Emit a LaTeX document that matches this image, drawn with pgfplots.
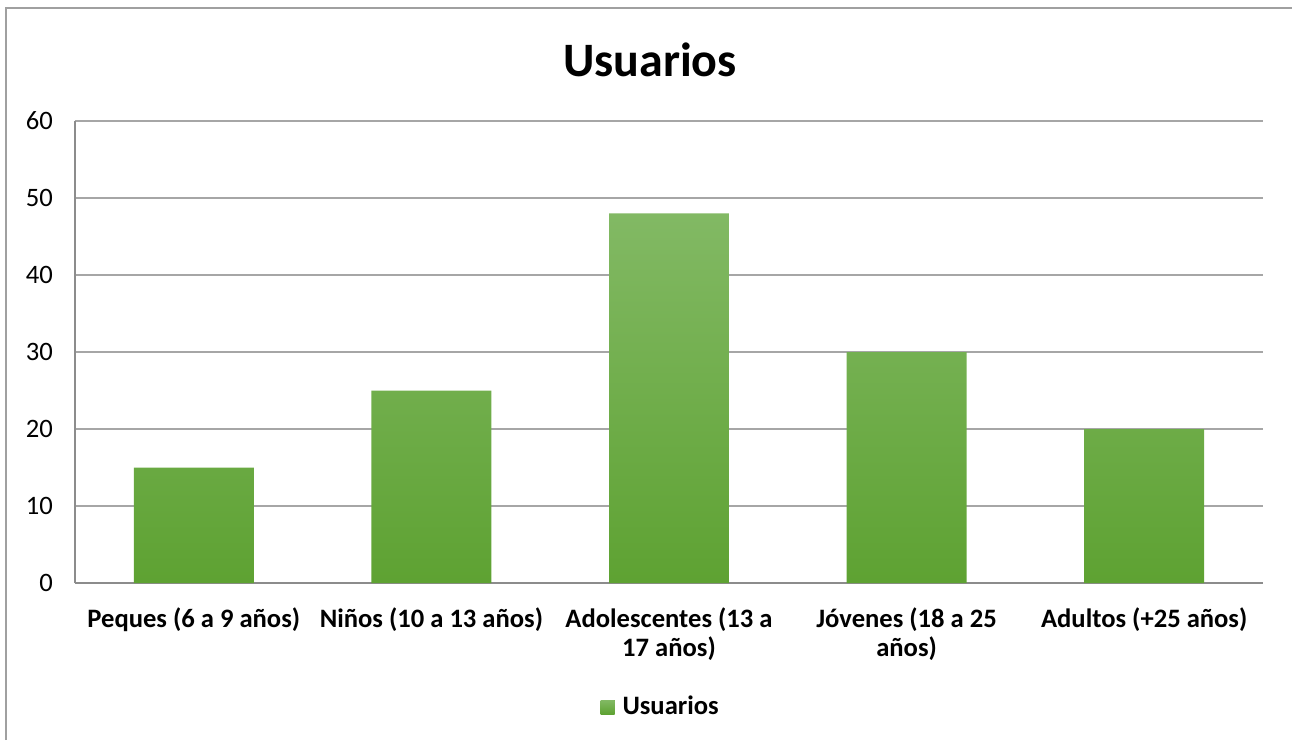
\documentclass[border=0pt]{standalone}
\usepackage{pgfplots}
\pgfplotsset{compat=1.18}
\usepackage{fontspec}
\setmainfont{Carlito}
\definecolor{gtop}{HTML}{82B964}
\definecolor{gmid}{HTML}{6EB040}
\definecolor{gbot}{HTML}{5EA232}
\definecolor{gridc}{HTML}{A6A6A6}
\definecolor{axc}{HTML}{8C8C8C}
\definecolor{bordc}{HTML}{A0A0A0}
\begin{document}
\begin{tikzpicture}
\path[use as bounding box] (0,0) rectangle (646pt,-370pt);
\draw[bordc, line width=1pt] (3pt,-370pt) -- (3pt,-4pt) -- (646pt,-4pt);
\begin{axis}[
  at={(37.5pt,-60.5pt)}, anchor=north west,
  scale only axis, width=594pt, height=231pt,
  xmin=-0.5, xmax=4.5, ymin=0, ymax=60,
  ytick={0,10,20,30,40,50,60},
  xtick=data,
  xticklabels={Peques (6 a 9 años),Niños (10 a 13 años),{Adolescentes (13 a\\17 años)},{Jóvenes (18 a 25\\años)},Adultos (+25 años)},
  major tick length=0pt,
  axis x line*=bottom, axis y line*=left,
  axis line style={axc, line width=1pt},
  ymajorgrids, grid style={gridc, line width=1pt},
  /pgf/number format/assume math mode=true,
  yticklabel style={font=\fontsize{13.3}{15}\selectfont, xshift=-7.6pt},
  xticklabel style={font=\bfseries\fontsize{13.3}{14.5}\selectfont, align=center, yshift=-9pt},
  title={Usuarios},
  title style={at={(0.484,1)}, anchor=base, yshift=16.5pt, font=\bfseries\fontsize{24}{28}\selectfont},
  legend style={at={(0.4955,-0.2684)}, anchor=center, draw=none, font=\bfseries\fontsize{13.3}{15}\selectfont, inner sep=0pt, nodes={inner xsep=4pt}},
  legend image code/.code={\fill[gmid] (0pt,-3.5pt) rectangle (7pt,3.5pt);},
]
\addplot[ybar, bar width=0.505, draw=none, top color=gtop, middle color=gmid, bottom color=gbot] coordinates {(0,15) (1,25) (2,48) (3,30) (4,20)};
\addlegendentry{Usuarios}
\end{axis}
\end{tikzpicture}
\end{document}
